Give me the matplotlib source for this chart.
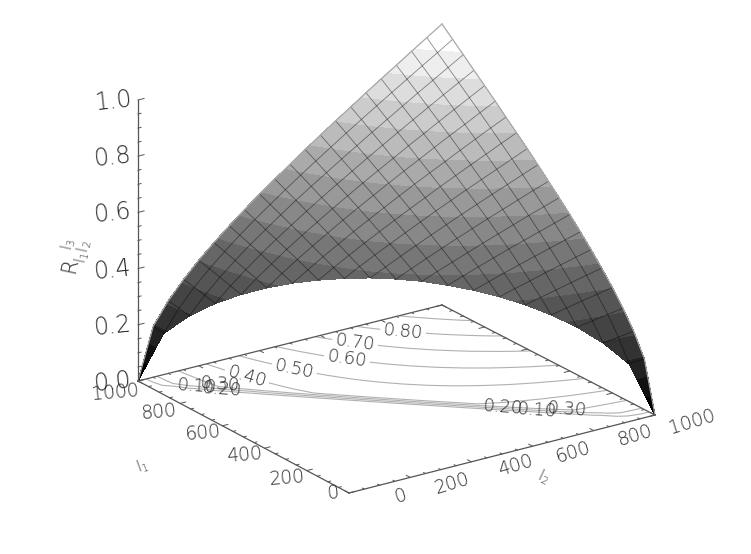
import numpy as np
import matplotlib
matplotlib.use('Agg')
import matplotlib.pyplot as plt
from matplotlib.tri import Triangulation

plt.rcParams['font.family'] = ['DejaVu Sans']
plt.rcParams['font.weight'] = 200
plt.rcParams['mathtext.fontset'] = 'dejavusans'

# grid lengths along both floor axes
lengths = np.arange(0, 1001, 50)

# surface height. The surface is symmetric in l1, l2 and only exists
# for l1 + l2 >= 1000. Each row is one l1 value, starting at l2 = 1000 - l1.
rows = {
    10: [.425],
    11: [.423, .448, .473],
    12: [.415, .444, .471, .497, .523],
    13: [.403, .434, .464, .493, .521, .548, .575],
    14: [.386, .420, .453, .484, .515, .544, .573, .601, .629],
    15: [.363, .401, .437, .471, .504, .536, .567, .597, .627, .656, .684],
    16: [.333, .376, .415, .453, .489, .523, .557, .589, .621, .652, .682, .713, .742],
    17: [.295, .344, .388, .430, .469, .506, .542, .577, .611, .644, .677, .709, .741, .772, .803],
    18: [.245, .304, .355, .401, .444, .484, .523, .561, .597, .632, .667, .701, .735, .768, .801,
         .834, .866],
    19: [.176, .252, .313, .365, .413, .458, .500, .540, .579, .617, .654, .690, .726, .761, .796,
         .830, .864, .898, .931],
    20: [.000, .181, .259, .321, .376, .425, .471, .515, .557, .597, .636, .675, .713, .750, .786,
         .823, .859, .894, .930, .965, 1.00],
}

z_ticks = [0.0, 0.2, 0.4, 0.6, 0.8, 1.0]
l_ticks = [0, 200, 400, 600, 800, 1000]
contour_levels = [0.1, 0.2, 0.3, 0.4, 0.5, 0.6, 0.7, 0.8, 0.9]
contour_labels = {0.8: (403, 332), 0.7: (355, 343), 0.6: (347, 358), 0.5: (295, 366), 0.4: (247, 376)}
band_labels = [('0.30', 220, 384), ('0.10', 197, 386), ('0.20', 222, 389),
               ('0.20', 503, 407), ('0.10', 537, 410), ('0.30', 567, 409)]

# label centres relative to their tick, in pixels
l2_offsets = [(51, 3), (42, 6), (44, 4), (40, 6), (41, 5), (37, 7)]
l1_offsets = [(-16, 0), (-20, 7), (-20, 7), (-20, 7), (-22, 9), (-23, 11)]

text_col = '#2a2a2a'
axis_col = '#555555'
line_col = '#b0b0b0'


def project(l1, l2, z=0.0):
    # the view is close to a plain parallel projection, the cross term is a small perspective
    l1, l2, z = np.asarray(l1, float), np.asarray(l2, float), np.asarray(z, float)
    x = 349 + 0.306 * l2 - 0.211 * l1 - 2e-6 * l1 * l2
    y = 493 - 0.078 * l2 - 0.112 * l1 + 2e-6 * l1 * l2 - 281 * z
    return x, y


n = len(lengths)
Z = np.full((n, n), np.nan)
for i, vals in rows.items():
    for k, v in enumerate(vals):
        j = 20 - i + k
        Z[i, j] = v
        Z[j, i] = v

L1, L2 = np.meshgrid(lengths, lengths, indexing='ij')
ok = ~np.isnan(Z)
index = -np.ones((n, n), int)
index[ok] = np.arange(ok.sum())

triangles = []
for i in range(n - 1):
    for j in range(n - 1):
        a, b, c, d = index[i, j], index[i + 1, j], index[i + 1, j + 1], index[i, j + 1]
        if i + j >= 20:
            triangles += [[a, b, c], [a, c, d]]
        elif i + j == 19:
            triangles += [[b, c, d]]

fig = plt.figure(figsize=(7.51, 5.54), dpi=100)
ax = fig.add_axes([0, 0, 1, 1])
ax.set_xlim(0, 751)
ax.set_ylim(554, 0)
ax.axis('off')

# shaded surface, 16 flat grey steps
sx, sy = project(L1[ok], L2[ok], Z[ok])
surf_tri = Triangulation(sx, sy, triangles)
greys = [str(k / 15) for k in range(16)]
ax.tricontourf(surf_tri, Z[ok], levels=np.linspace(0, 1.0001, 17), colors=greys, zorder=2)

# mesh on top of the surface
for i in range(1, n - 1):
    keep = ok[i]
    x, y = project(L1[i][keep], L2[i][keep], Z[i][keep])
    ax.plot(x, y, color='black', alpha=0.45, lw=0.6, zorder=3)
    x, y = project(L2[i][keep], L1[i][keep], Z[i][keep])
    ax.plot(x, y, color='black', alpha=0.45, lw=0.6, zorder=3)
for x, y in [project(L1[20], L2[20], Z[20]), project(L2[20], L1[20], Z[20])]:
    ax.plot(x, y, color='#a8a8a8', lw=0.9, zorder=3)

# floor contours. the height drops to zero just past the domain edge, a ring of zero nodes does that
edge_i = np.arange(1, 20)
ring1, ring2 = lengths[edge_i] - 32, lengths[20 - edge_i] - 32
fx, fy = project(L1[ok], L2[ok])
rx, ry = project(ring1, ring2)
floor_x = np.concatenate([fx, rx])
floor_y = np.concatenate([fy, ry])
floor_z = np.concatenate([Z[ok], np.zeros(len(ring1))])
base = ok.sum()
floor_tris = list(triangles)
for k, i in enumerate(edge_i[:-1]):
    b0, b1 = index[i, 20 - i], index[i + 1, 19 - i]
    floor_tris += [[b0, b1, base + k], [b1, base + k + 1, base + k]]
floor_tris += [[index[0, 20], index[1, 19], base], [index[19, 1], index[20, 0], base + 18]]
floor_tri = Triangulation(floor_x, floor_y, floor_tris)
for lev in contour_levels:
    cs = ax.tricontour(floor_tri, floor_z, levels=[lev], colors=line_col, linewidths=0.8, zorder=1)
    if lev in contour_labels:
        ax.clabel(cs, fmt='%.2f', manual=[contour_labels[lev]], fontsize=13, colors=text_col,
                  inline=True, inline_spacing=3)
for s, x, y in band_labels:
    ax.text(x, y, s, fontsize=13, color=text_col, rotation=-4, ha='center', va='center', zorder=4)

# floor box
for a, b in [((0, 0), (1000, 0)), ((0, 0), (0, 1000)), ((1000, 0), (1000, 1000)), ((0, 1000), (1000, 1000))]:
    x, y = project([a[0], b[0]], [a[1], b[1]])
    ax.plot(x, y, color=axis_col, lw=0.9, zorder=4)

# ticks on all four floor edges, and the height axis
for v in range(0, 1001, 50):
    size = 36 if v % 200 == 0 else 18
    for l1, l2, d1, d2 in [(v, 0, 0, 1), (v, 1000, 0, -1), (0, v, 1, 0), (1000, v, -1, 0)]:
        x, y = project([l1, l1 + d1 * size / 2.0], [l2, l2 + d2 * size / 2.0])
        ax.plot(x, y, color=axis_col, lw=0.7, zorder=4)

zx, zy = project([1000, 1000], [0, 0], [0, 1])
ax.plot(zx, zy, color=axis_col, lw=0.9, zorder=4)
for k in range(21):
    v = k * 0.05
    size = 20 if k % 4 == 0 else 10
    x, y = project([1000, 1000], [0, size], [v, v])
    ax.plot(x, y, color=axis_col, lw=0.7, zorder=4)

for v in z_ticks:
    x, y = project(1000, 0, v)
    ax.text(x - 25, y + 1, f'{v:.1f}', fontsize=17, color=text_col, rotation=6,
            ha='center', va='center', zorder=5)
for v, off2, off1 in zip(l_ticks, l2_offsets, l1_offsets):
    x, y = project(0, v)
    ax.text(x + off2[0], y + off2[1], str(v), fontsize=13.5, color=text_col, rotation=17,
            ha='center', va='center', zorder=5)
    x, y = project(v, 0)
    ax.text(x + off1[0], y + off1[1], str(v), fontsize=13.5, color=text_col, rotation=5,
            ha='center', va='center', zorder=5)

ax.text(543, 477, r'$\mathregular{l_2}$', fontsize=11, color=text_col, rotation=-25, ha='center', va='center')
ax.text(142, 466, r'$\mathregular{l_1}$', fontsize=11, color=text_col, rotation=20, ha='center', va='center')
ax.text(74, 257, r'$\mathregular{R_{l_1 l_2}^{\ \ l_3}}$', fontsize=15, color=text_col, rotation=78,
        ha='center', va='center')

fig.savefig('out.png', dpi=100)
